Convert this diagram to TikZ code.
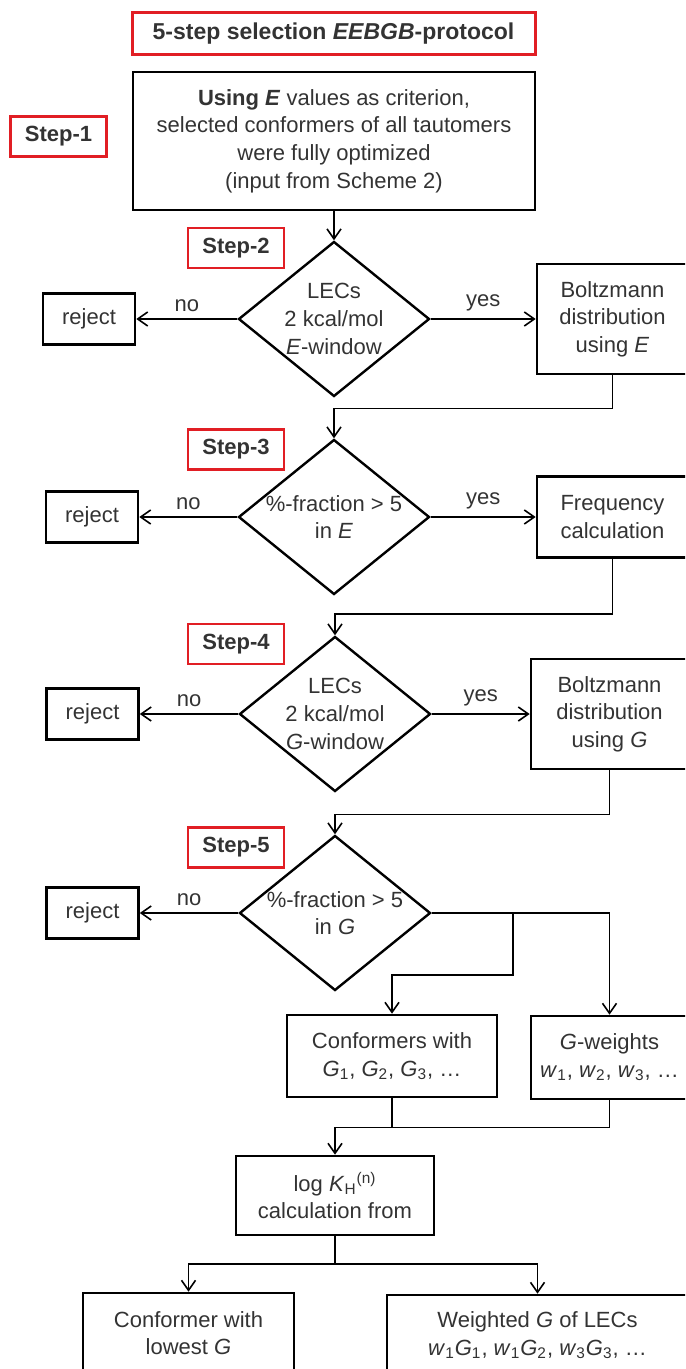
\documentclass[tikz,border=0pt]{standalone}
\usepackage{fontspec}
\setmainfont{Liberation Sans}
\usetikzlibrary{shapes.geometric, arrows.meta}
\definecolor{stepred}{RGB}{225,30,36}

\begin{document}
\begin{tikzpicture}[x=0.5pt, y=-0.5pt,
    font=\fontsize{11}{13.8}\selectfont, text=black!80,
    box/.style={draw=black, line width=1.3pt, align=center, inner sep=1pt},
    stepbox/.style={draw=stepred, line width=1.4pt, font=\fontsize{11}{13.8}\selectfont\bfseries,
        minimum width=48pt, minimum height=20pt, inner sep=1pt},
    rej/.style={box, minimum width=46pt, minimum height=25.5pt},
    dec/.style={diamond, draw=black, line width=1.2pt, minimum width=95.5pt, minimum height=77.5pt, inner sep=0pt},
    lbl/.style={align=center},
    arr/.style={line width=0.8pt, -{Straight Barb[length=5pt, width=7pt]}},
    wire/.style={line width=0.8pt}]
    \clip (0,0) rectangle (685,1369);
    \node[box, draw=stepred, line width=1.5pt, minimum width=201.5pt, minimum height=21pt,
        font=\fontsize{11.5}{13}\selectfont\bfseries] (title) at (333.5,34) {5-step selection \textit{EEBGB}-protocol};
    \node[box, minimum width=201pt, minimum height=69pt] (scr) at (334,141)
        {\textbf{Using \textit{E}} values as criterion,\\ selected conformers of all tautomers\\ were fully optimized\\ (input from Scheme 2)};
    \node[stepbox] (s1) at (58.5,136.5) {Step-1};
    \node[stepbox] (s2) at (236,248) {Step-2};
    \node[stepbox] (s3) at (236,449.5) {Step-3};
    \node[stepbox] (s4) at (236,644) {Step-4};
    \node[stepbox] (s5) at (236,847.5) {Step-5};
    \node[dec, label={[lbl]center:LECs\\ 2 kcal/mol\\ \textit{E}-window}] (d2) at (334,319) {};
    \node[dec, label={[lbl]center:\%-fraction > 5\\ in \textit{E}}] (d3) at (334,517) {};
    \node[dec, label={[lbl]center:LECs\\ 2 kcal/mol\\ \textit{G}-window}] (d4) at (335,714) {};
    \node[dec, label={[lbl]center:\%-fraction > 5\\ in \textit{G}}] (d5) at (335,913) {};
    \node[rej] (r2) at (89,319) {reject};
    \node[rej] (r3) at (92,517) {reject};
    \node[rej] (r4) at (92.5,714) {reject};
    \node[rej] (r5) at (92.5,913) {reject};
    \node[box, minimum width=75.5pt, minimum height=55pt] (bE) at (612.5,319) {Boltzmann\\ distribution\\ using \textit{E}};
    \node[box, minimum width=75.5pt, minimum height=40.5pt] (fq) at (612.5,517) {Frequency\\ calculation};
    \node[box, minimum width=78.5pt, minimum height=55pt] (bG) at (609.5,714) {Boltzmann\\ distribution\\ using \textit{G}};
    \node[box, minimum width=105pt, minimum height=41pt] (conf) at (392,1056)
        {Conformers with\\ \textit{G}\textsubscript{1}, \textit{G}\textsubscript{2}, \textit{G}\textsubscript{3}, \dots};
    \node[box, minimum width=78.5pt, minimum height=41.5pt] (gw) at (609.5,1057.5)
        {\textit{G}-weights\\ \textit{w}\textsubscript{1}, \textit{w}\textsubscript{2}, \textit{w}\textsubscript{3}, \dots};
    \node[box, minimum width=99pt, minimum height=39.5pt] (logk) at (335,1195.5)
        {log \textit{K}\textsubscript{H}\textsuperscript{(n)}\\ calculation from};
    \node[box, minimum width=105.5pt, minimum height=40pt] (low) at (188.5,1333) {Conformer with\\ lowest \textit{G}};
    \node[box, minimum width=150.5pt, minimum height=40pt] (wtd) at (537.5,1335)
        {Weighted \textit{G} of LECs\\ \textit{w}\textsubscript{1}\textit{G}\textsubscript{1}, \textit{w}\textsubscript{1}\textit{G}\textsubscript{2}, \textit{w}\textsubscript{3}\textit{G}\textsubscript{3}, \dots};
    \coordinate (fork) at (513,913);
    \coordinate (split) at (335,1264);
    \draw[arr] (scr.south) -- (d2.north);
    \draw[arr] (d2.west) -- node[above] {no} (r2.east);
    \draw[arr] (d2.east) -- node[above] {yes} (bE.west);
    \draw[arr] (bE.south) -- ++(0,33) -| (d3.north);
    \draw[arr] (d3.west) -- node[above] {no} (r3.east);
    \draw[arr] (d3.east) -- node[above] {yes} (fq.west);
    \draw[arr] (fq.south) -- ++(0,55) -| (d4.north);
    \draw[arr] (d4.west) -- node[above] {no} (r4.east);
    \draw[arr] (d4.east) -- node[above] {yes} (bG.west);
    \draw[arr] (bG.south) -- ++(0,44) -| (d5.north);
    \draw[arr] (d5.west) -- node[above] {no} (r5.east);
    \draw[arr] (d5.east) -| (gw.north);
    \draw[arr] (fork) -- ++(0,62) -| (conf.north);
    \draw[wire] (conf.south) -- ++(0,29);
    \draw[arr] (gw.south) -- ++(0,27) -| (logk.north);
    \draw[wire] (logk.south) -- (split);
    \draw[arr] (split) -| (low.north);
    \draw[arr] (split) -| (wtd.north);
\end{tikzpicture}
\end{document}
